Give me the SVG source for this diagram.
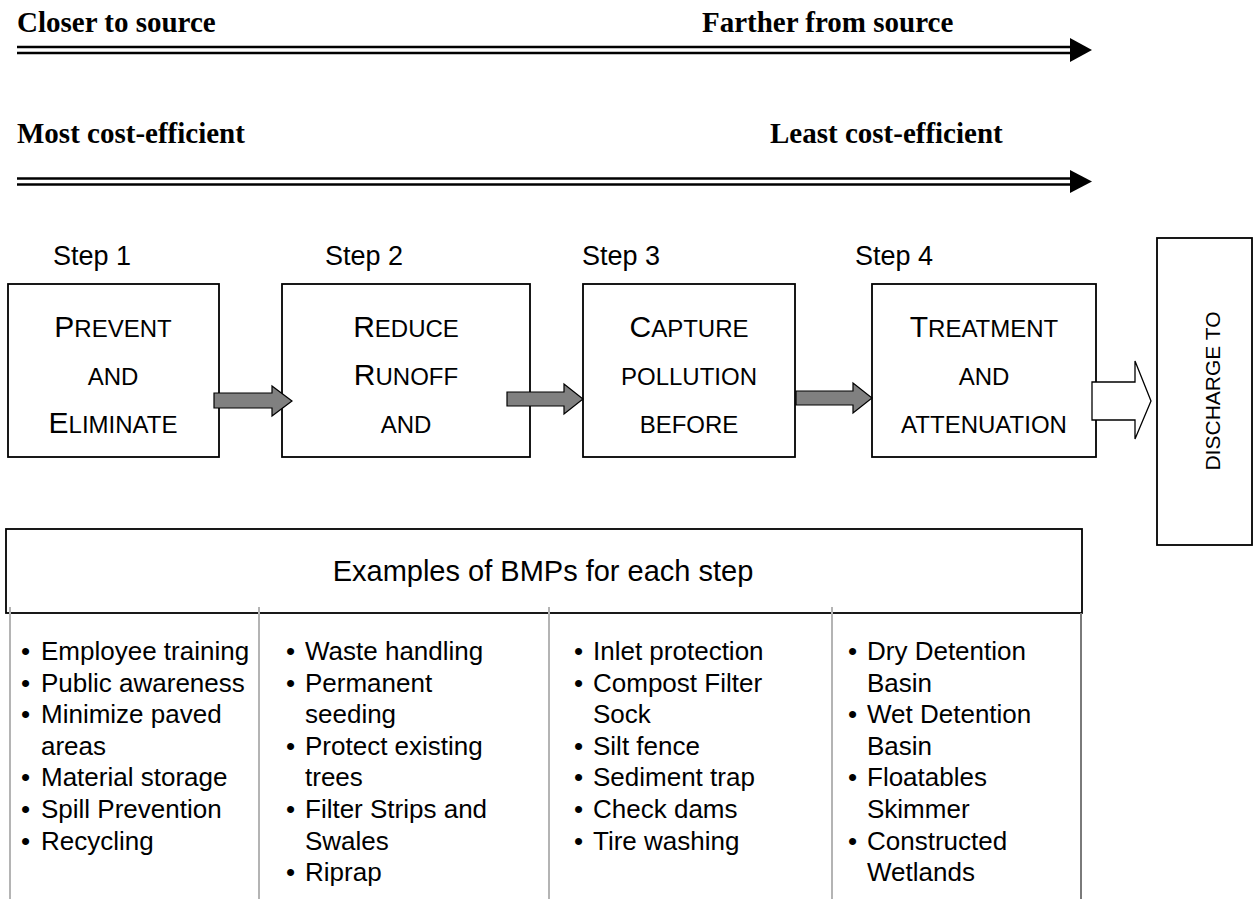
<svg xmlns="http://www.w3.org/2000/svg" width="1254" height="899" viewBox="0 0 1254 899">
<style>
.hdr{font-family:"Liberation Serif","Times New Roman",serif;font-weight:bold;font-size:29px;fill:#000}
.step{font-family:"Liberation Sans",Arial,sans-serif;font-size:27px;fill:#000}
.bx{fill:#fff;stroke:#000;stroke-width:1.8}
.bt{font-family:"Liberation Sans",Arial,sans-serif;font-size:24px;fill:#000;text-anchor:middle}
.big{font-size:30px}
.dl{stroke:#000;stroke-width:2.6}
.ga{fill:#808080;stroke:#000;stroke-width:1.2;stroke-linejoin:miter}
.li{font-family:"Liberation Sans",Arial,sans-serif;font-size:26px;fill:#000}
.gl{stroke:#b4b4b4;stroke-width:2}
</style>
<rect width="1254" height="899" fill="#fff"/>

<g id="scale-labels">
<text class="hdr" x="17" y="32">Closer to source</text>
<text class="hdr" x="702" y="32">Farther from source</text>
<text class="hdr" x="17" y="143">Most cost-efficient</text>
<text class="hdr" x="770" y="143">Least cost-efficient</text>
</g>

<g id="step-labels">
<text class="step" x="53" y="265">Step 1</text>
<text class="step" x="325" y="265">Step 2</text>
<text class="step" x="582" y="265">Step 3</text>
<text class="step" x="855" y="265">Step 4</text>
</g>

<g id="step1">
<rect class="bx" x="8" y="284" width="211" height="173"/>
<text class="bt" x="113" y="337"><tspan class="big">P</tspan>REVENT</text>
<text class="bt" x="113" y="385">AND</text>
<text class="bt" x="113" y="433"><tspan class="big">E</tspan>LIMINATE</text>
</g>

<g id="step2">
<rect class="bx" x="282" y="284" width="248" height="173"/>
<text class="bt" x="406" y="337"><tspan class="big">R</tspan>EDUCE</text>
<text class="bt" x="406" y="385"><tspan class="big">R</tspan>UNOFF</text>
<text class="bt" x="406" y="433">AND</text>
</g>

<g id="step3">
<rect class="bx" x="583" y="284" width="212" height="173"/>
<text class="bt" x="689" y="337"><tspan class="big">C</tspan>APTURE</text>
<text class="bt" x="689" y="385">POLLUTION</text>
<text class="bt" x="689" y="433">BEFORE</text>
</g>

<g id="step4">
<rect class="bx" x="872" y="284" width="224" height="173"/>
<text class="bt" x="984" y="337"><tspan class="big">T</tspan>REATMENT</text>
<text class="bt" x="984" y="385">AND</text>
<text class="bt" x="984" y="433">ATTENUATION</text>
</g>

<g id="discharge">
<rect class="bx" x="1157" y="238" width="95" height="307"/>
<text font-family="Liberation Sans, Arial, sans-serif" font-size="21" text-anchor="middle" transform="translate(1220 391) rotate(-90)">DISCHARGE TO</text>
</g>

<g id="connectors">
<line class="dl" x1="17" y1="47" x2="1072" y2="47"/>
<line class="dl" x1="17" y1="53" x2="1072" y2="53"/>
<polygon points="1070,38 1092,50 1070,62" fill="#000"/>
<line class="dl" x1="17" y1="178.5" x2="1072" y2="178.5"/>
<line class="dl" x1="17" y1="184.5" x2="1072" y2="184.5"/>
<polygon points="1070,170 1092,181.5 1070,193" fill="#000"/>

<polygon class="ga" points="214,393 272,393 272,386 292,401 272,416 272,408 214,408"/>
<polygon class="ga" points="507,392 564,392 564,384 583,399 564,414 564,406 507,406"/>
<polygon class="ga" points="796,391 853,391 853,383 872,398 853,413 853,405 796,405"/>
<polygon points="1092,382 1135,382 1135,361 1151,401 1135,439 1135,420 1092,420" fill="#fff" stroke="#000" stroke-width="1.3"/>
</g>

<g id="bmp-table">
<rect class="bx" x="6" y="529" width="1076" height="84"/>
<text font-family="Liberation Sans, Arial, sans-serif" font-size="29" text-anchor="middle" x="543" y="581">Examples of BMPs for each step</text>
<line class="gl" x1="10" y1="607" x2="10" y2="899"/>
<line class="gl" x1="259" y1="607" x2="259" y2="899"/>
<line class="gl" x1="549" y1="607" x2="549" y2="899"/>
<line class="gl" x1="832" y1="607" x2="832" y2="899"/>
<line x1="1081" y1="613" x2="1081" y2="899" stroke="#7a7a7a" stroke-width="2"/>
</g>

<g id="col1" class="li">
<text x="21" y="660">•</text><text x="41" y="660">Employee training</text>
<text x="21" y="691.6">•</text><text x="41" y="691.6">Public awareness</text>
<text x="21" y="723.2">•</text><text x="41" y="723.2">Minimize paved</text>
<text x="41" y="754.8">areas</text>
<text x="21" y="786.4">•</text><text x="41" y="786.4">Material storage</text>
<text x="21" y="818">•</text><text x="41" y="818">Spill Prevention</text>
<text x="21" y="849.6">•</text><text x="41" y="849.6">Recycling</text>
</g>

<g id="col2" class="li">
<text x="286" y="660">•</text><text x="305" y="660">Waste handling</text>
<text x="286" y="691.6">•</text><text x="305" y="691.6">Permanent</text>
<text x="305" y="723.2">seeding</text>
<text x="286" y="754.8">•</text><text x="305" y="754.8">Protect existing</text>
<text x="305" y="786.4">trees</text>
<text x="286" y="818">•</text><text x="305" y="818">Filter Strips and</text>
<text x="305" y="849.6">Swales</text>
<text x="286" y="881.2">•</text><text x="305" y="881.2">Riprap</text>
</g>

<g id="col3" class="li">
<text x="574" y="660">•</text><text x="593" y="660">Inlet protection</text>
<text x="574" y="691.6">•</text><text x="593" y="691.6">Compost Filter</text>
<text x="593" y="723.2">Sock</text>
<text x="574" y="754.8">•</text><text x="593" y="754.8">Silt fence</text>
<text x="574" y="786.4">•</text><text x="593" y="786.4">Sediment trap</text>
<text x="574" y="818">•</text><text x="593" y="818">Check dams</text>
<text x="574" y="849.6">•</text><text x="593" y="849.6">Tire washing</text>
</g>

<g id="col4" class="li">
<text x="848" y="660">•</text><text x="867" y="660">Dry Detention</text>
<text x="867" y="691.6">Basin</text>
<text x="848" y="723.2">•</text><text x="867" y="723.2">Wet Detention</text>
<text x="867" y="754.8">Basin</text>
<text x="848" y="786.4">•</text><text x="867" y="786.4">Floatables</text>
<text x="867" y="818">Skimmer</text>
<text x="848" y="849.6">•</text><text x="867" y="849.6">Constructed</text>
<text x="867" y="881.2">Wetlands</text>
</g>
</svg>
